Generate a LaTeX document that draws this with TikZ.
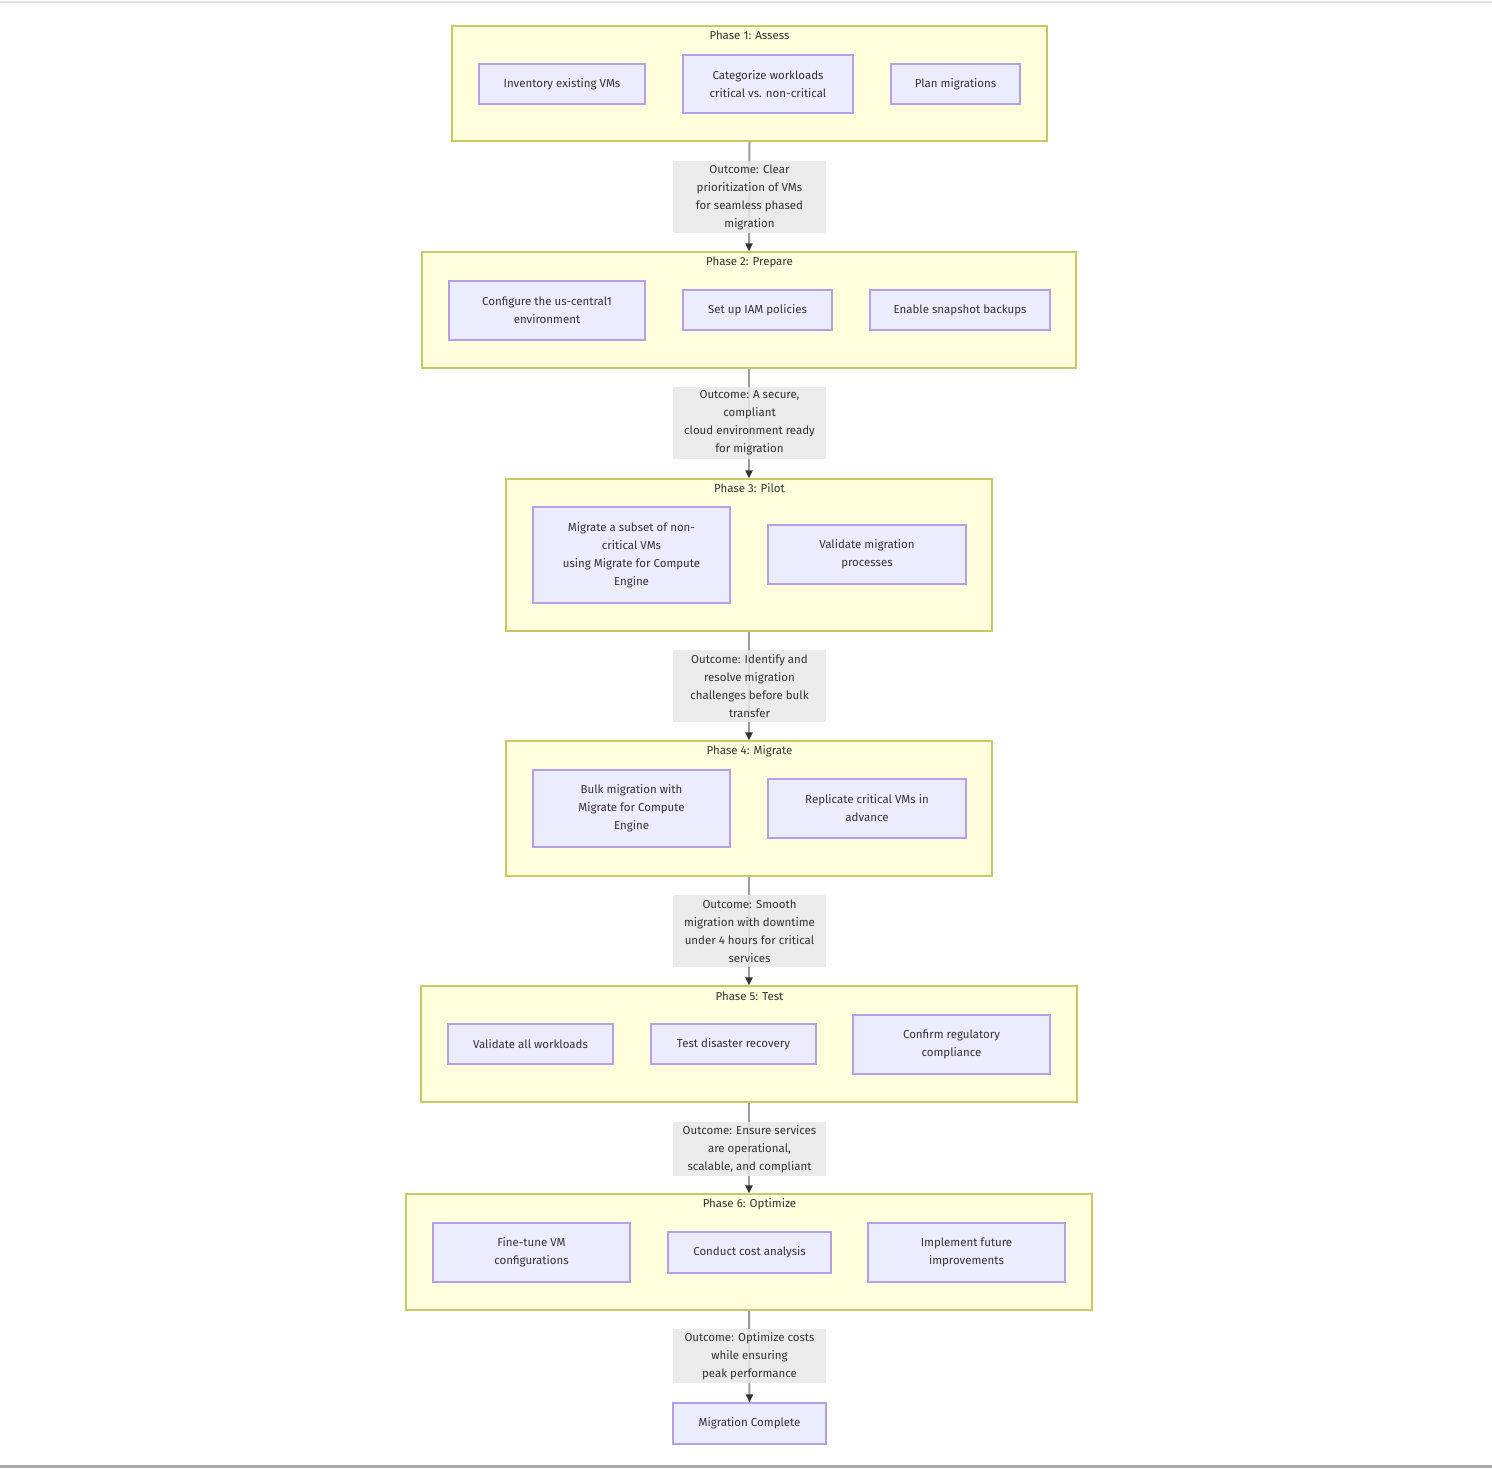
\documentclass[tikz,border=0pt]{standalone}
\usepackage{fontspec}
\setmainfont{Fira Sans}
\usetikzlibrary{arrows.meta}
\definecolor{clusterfill}{HTML}{FFFFDE}
\definecolor{clusterstroke}{HTML}{C8C864}
\definecolor{nodefill}{HTML}{ECECFF}
\definecolor{nodestroke}{HTML}{B4A0E6}
\definecolor{labelbg}{HTML}{E8E8E8}
\definecolor{textc}{HTML}{333333}
\definecolor{edgegray}{HTML}{9A9A9A}
\definecolor{arrowc}{HTML}{333333}
\newcommand\lbl{\fontsize{11.5}{18}\selectfont}
\newcommand\rnode[7]{\node[#1, minimum width={(#5-#3)*1pt}, minimum height={(#6-#4)*1pt}] (#2) at ({(#3+#5)/2},{(#4+#6)/2}) {#7};}
\tikzset{
  cluster/.style={draw=clusterstroke, fill=clusterfill, line width=1.2pt, inner sep=0pt},
  box/.style={draw=nodestroke, fill=nodefill, line width=1.2pt, align=center, inner sep=0pt, font=\lbl, text=textc},
  outcome/.style={fill=labelbg, fill opacity=0.85, text opacity=1, align=center, inner sep=0pt, font=\lbl, text=textc},
  ptitle/.style={font=\lbl, text=textc, inner sep=0pt},
  flow/.style={draw=edgegray, line width=2pt, -{Triangle[length=8pt,width=7pt,color=arrowc]}},
}
\begin{document}
\begin{tikzpicture}[x=1pt,y=-1pt]
\useasboundingbox (0,0) rectangle (1492,1468);
\fill[white] (0,0) rectangle (1492,1468);
\draw[line width=2pt, draw=black!12] (0,2) -- (1492,2);
\draw[line width=3pt, draw=black!30!blue!10!gray!60] (0,1466) -- (1492,1466);

% clusters
\rnode{cluster}{p1}{452}{26}{1047}{141}{}
\rnode{cluster}{p2}{422}{252}{1076}{368}{}
\rnode{cluster}{p3}{506}{479}{992}{631}{}
\rnode{cluster}{p4}{506}{741}{992}{876}{}
\rnode{cluster}{p5}{421}{986}{1077}{1102}{}
\rnode{cluster}{p6}{406}{1194}{1092}{1310}{}

\node[ptitle] (t1) at (749.5,35) {Phase 1: Assess};
\node[ptitle] (t2) at (749.5,262) {Phase 2: Prepare};
\node[ptitle] (t3) at (749.5,488) {Phase 3: Pilot};
\node[ptitle] (t4) at (749.5,751) {Phase 4: Migrate};
\node[ptitle] (t5) at (749.5,996) {Phase 5: Test};
\node[ptitle] (t6) at (749.5,1204) {Phase 6: Optimize};

% inner nodes
\rnode{box}{a1}{479}{64}{645}{104}{Inventory existing VMs}
\rnode{box}{a2}{683}{55}{853}{113}{Categorize workloads\\critical vs. non-critical}
\rnode{box}{a3}{891}{64}{1020}{104}{Plan migrations}

\rnode{box}{b1}{449}{281}{645}{340}{Configure the us-central1\\environment}
\rnode{box}{b2}{683}{290}{832}{330}{Set up IAM policies}
\rnode{box}{b3}{870}{290}{1050}{330}{Enable snapshot backups}

\rnode{box}{c1}{533}{507}{730}{603}{Migrate a subset of non-\\critical VMs\\using Migrate for Compute\\Engine}
\rnode{box}{c2}{768}{525}{966}{584}{Validate migration\\processes}

\rnode{box}{d1}{533}{770}{730}{847}{Bulk migration with\\Migrate for Compute\\Engine}
\rnode{box}{d2}{768}{779}{966}{838}{Replicate critical VMs in\\advance}

\rnode{box}{e1}{448}{1024}{613}{1064}{Validate all workloads}
\rnode{box}{e2}{651}{1024}{816}{1064}{Test disaster recovery}
\rnode{box}{e3}{853}{1015}{1050}{1074}{Confirm regulatory\\compliance}

\rnode{box}{f1}{433}{1223}{630}{1282}{Fine-tune VM\\configurations}
\rnode{box}{f2}{668}{1232}{831}{1273}{Conduct cost analysis}
\rnode{box}{f3}{868}{1223}{1065}{1282}{Implement future\\improvements}

\rnode{box}{done}{673}{1403}{826}{1444}{Migration Complete}

% connectors
\draw[flow] (p1.south) -- (p2.north);
\draw[flow] (p2.south) -- (p3.north);
\draw[flow] (p3.south) -- (p4.north);
\draw[flow] (p4.south) -- (p5.north);
\draw[flow] (p5.south) -- (p6.north);
\draw[flow] (p6.south) -- (done.north);

% edge labels
\rnode{outcome}{o1}{673}{161}{826}{233}{Outcome: Clear\\prioritization of VMs\\for seamless phased\\migration}
\rnode{outcome}{o2}{673}{387}{826}{459}{Outcome: A secure,\\compliant\\cloud environment ready\\for migration}
\rnode{outcome}{o3}{673}{650}{826}{722}{Outcome: Identify and\\resolve migration\\challenges before bulk\\transfer}
\rnode{outcome}{o4}{673}{895}{826}{967}{Outcome: Smooth\\migration with downtime\\under 4 hours for critical\\services}
\rnode{outcome}{o5}{673}{1122}{826}{1176}{Outcome: Ensure services\\are operational,\\scalable, and compliant}
\rnode{outcome}{o6}{673}{1329}{826}{1383}{Outcome: Optimize costs\\while ensuring\\peak performance}
\end{tikzpicture}
\end{document}
